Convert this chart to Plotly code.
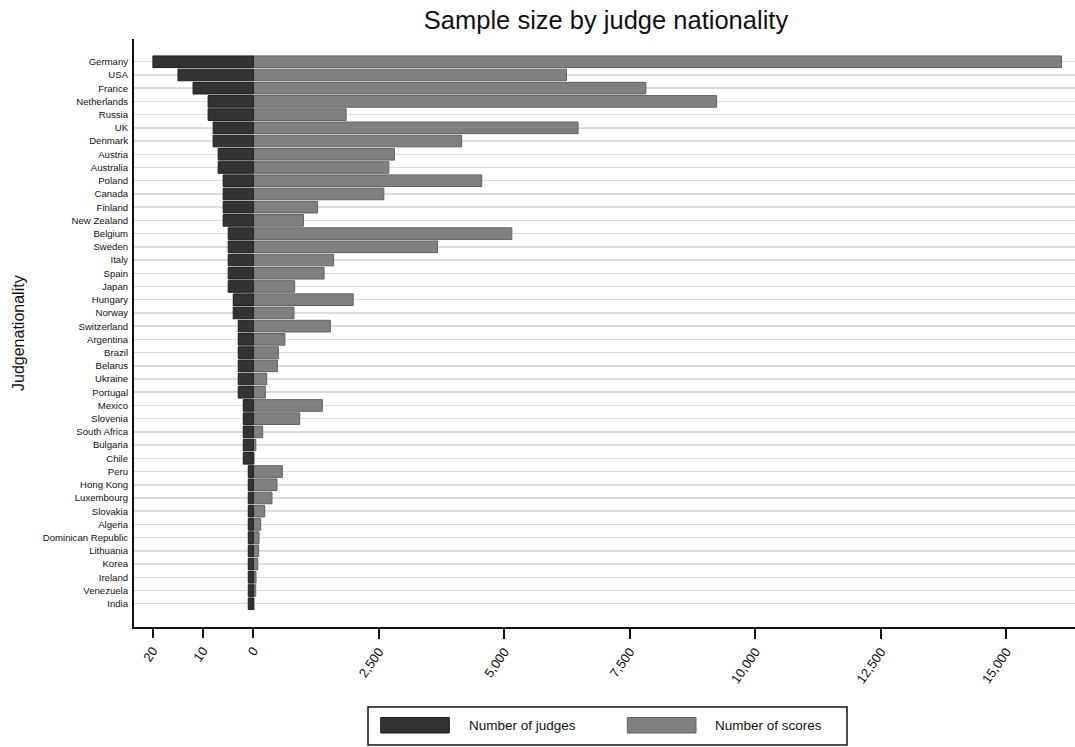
import plotly.graph_objects as go

countries = ["Germany", "USA", "France", "Netherlands", "Russia", "UK", "Denmark",
             "Austria", "Australia", "Poland", "Canada", "Finland", "New Zealand",
             "Belgium", "Sweden", "Italy", "Spain", "Japan", "Hungary", "Norway",
             "Switzerland", "Argentina", "Brazil", "Belarus", "Ukraine", "Portugal",
             "Mexico", "Slovenia", "South Africa", "Bulgaria", "Chile", "Peru",
             "Hong Kong", "Luxembourg", "Slovakia", "Algeria", "Dominican Republic",
             "Lithuania", "Korea", "Ireland", "Venezuela", "India"]

judges = [20, 15, 12, 9, 9, 8, 8, 7, 7, 6, 6, 6, 6, 5, 5, 5, 5, 5, 4, 4,
          3, 3, 3, 3, 3, 3, 2, 2, 2, 2, 2, 1, 1, 1, 1, 1, 1, 1, 1, 1, 1, 1]

scores = [16100, 6240, 7820, 9230, 1850, 6470, 4150, 2810, 2700, 4550, 2600,
          1280, 1000, 5150, 3670, 1600, 1410, 825, 1990, 810, 1535, 630, 500,
          480, 268, 240, 1375, 925, 187, 50, 15, 578, 472, 372, 227, 147, 114,
          107, 88, 54, 48, 15]

judge_ticks = [20, 10, 0]
judge_ticktext = ["20", "10", "0"]
score_ticks = [2500, 5000, 7500, 10000, 12500, 15000]
score_ticktext = ["2,500", "5,000", "7,500", "10,000", "12,500", "15,000"]

series_names = ["Number of judges", "Number of scores"]
title_text = "Sample size by judge nationality"
ytitle_text = "Judgenationality"

W, H = 1075, 747
L, R, T, B = 134, 0, 39, 120
PW, PH = W - L - R, H - T - B
FONT = "Liberation Sans, Arial, Helvetica, sans-serif"
DARK, DARK_LINE = "#333333", "#1c1c1c"
GRAY, GRAY_LINE = "#808080", "#626262"


def px_x(x):
    return (x - L) / PW


def px_y(y):
    return (H - B - y) / PH


fig = go.Figure()
fig.add_trace(go.Bar(
    y=countries, x=judges, orientation="h", name=series_names[0],
    xaxis="x2", yaxis="y", width=0.88,
    marker=dict(color=DARK, line=dict(color=DARK_LINE, width=1)),
    showlegend=False,
))
fig.add_trace(go.Bar(
    y=countries, x=scores, orientation="h", name=series_names[1],
    xaxis="x", yaxis="y", width=0.88,
    marker=dict(color=GRAY, line=dict(color=GRAY_LINE, width=1)),
    showlegend=False,
))

# scale: 0 at pixel 253.3, 0.0502 px per score, 100 scores per judge
zero_px = 253.3 - L
ppu = 0.0502
score_range = [-zero_px / ppu, (PW - zero_px) / ppu]
judge_range = [zero_px / (ppu * 100), -(PW - zero_px) / (ppu * 100)]

tickfont = dict(family=FONT, size=13, color="#111111")
TICKANGLE = -55

fig.update_layout(
    width=W, height=H,
    margin=dict(l=L, r=R, t=T, b=B, autoexpand=False),
    paper_bgcolor="white", plot_bgcolor="white",
    barmode="overlay",
    showlegend=False,
    font=dict(family=FONT, color="#111111"),
    title=dict(text=title_text, x=px_x(606), xref="paper", xanchor="center",
               y=1 - 20 / H, yanchor="middle",
               font=dict(family=FONT, size=25.5, color="#111111")),
    xaxis=dict(
        range=score_range, tickmode="array", tickvals=score_ticks,
        ticktext=score_ticktext, tickangle=TICKANGLE, ticks="outside", ticklen=10,
        tickwidth=2, tickcolor="#111111", showline=True, linecolor="#111111",
        linewidth=2, showgrid=False, zeroline=False, tickfont=tickfont,
        fixedrange=True,
    ),
    xaxis2=dict(
        range=judge_range, overlaying="x", side="bottom", anchor="y",
        tickmode="array", tickvals=judge_ticks, ticktext=judge_ticktext,
        tickangle=TICKANGLE, ticks="outside", ticklen=10, tickwidth=2,
        tickcolor="#111111", showline=False, showgrid=False, zeroline=False,
        tickfont=tickfont, fixedrange=True,
    ),
    yaxis=dict(
        type="category", categoryorder="array", categoryarray=countries,
        range=[len(countries) - 1 + 1.76, -1.72],
        showline=True, linecolor="#111111", linewidth=2,
        showgrid=True, gridcolor="#dcdcdc", gridwidth=1.5,
        ticks="", ticklabelstandoff=2, zeroline=False,
        tickfont=dict(family=FONT, size=9.6, color="#111111"),
        fixedrange=True,
    ),
)

annotations = [
    dict(text=ytitle_text, xref="paper", yref="paper", x=px_x(18), y=px_y(333),
         xanchor="center", yanchor="middle", textangle=-90, showarrow=False,
         font=dict(family=FONT, size=16, color="#111111")),
]

# legend drawn in paper coordinates
shapes = [
    dict(type="rect", xref="paper", yref="paper",
         x0=px_x(368), x1=px_x(847), y0=px_y(707), y1=px_y(745),
         line=dict(color="#111111", width=1.5), fillcolor="white", layer="above"),
]
legend_items = [(380.7, 449.3, 466.7, DARK, DARK_LINE), (627.3, 696.0, 713.3, GRAY, GRAY_LINE)]
for name, (sx0, sx1, tx, fc, lc) in zip(series_names, legend_items):
    shapes.append(dict(type="rect", xref="paper", yref="paper",
                       x0=px_x(sx0), x1=px_x(sx1), y0=px_y(717.5), y1=px_y(733),
                       fillcolor=fc, line=dict(color=lc, width=1), layer="above"))
    annotations.append(dict(text=name, xref="paper", yref="paper",
                            x=px_x(tx), y=px_y(725.5), xanchor="left",
                            yanchor="middle", showarrow=False,
                            font=dict(family=FONT, size=13.5, color="#111111")))

fig.update_layout(shapes=shapes, annotations=annotations)

fig.write_html(
    "out.html",
    config={"displayModeBar": False, "staticPlot": True},
    post_script="document.body.style.margin='0';document.body.style.overflow='hidden';",
)
